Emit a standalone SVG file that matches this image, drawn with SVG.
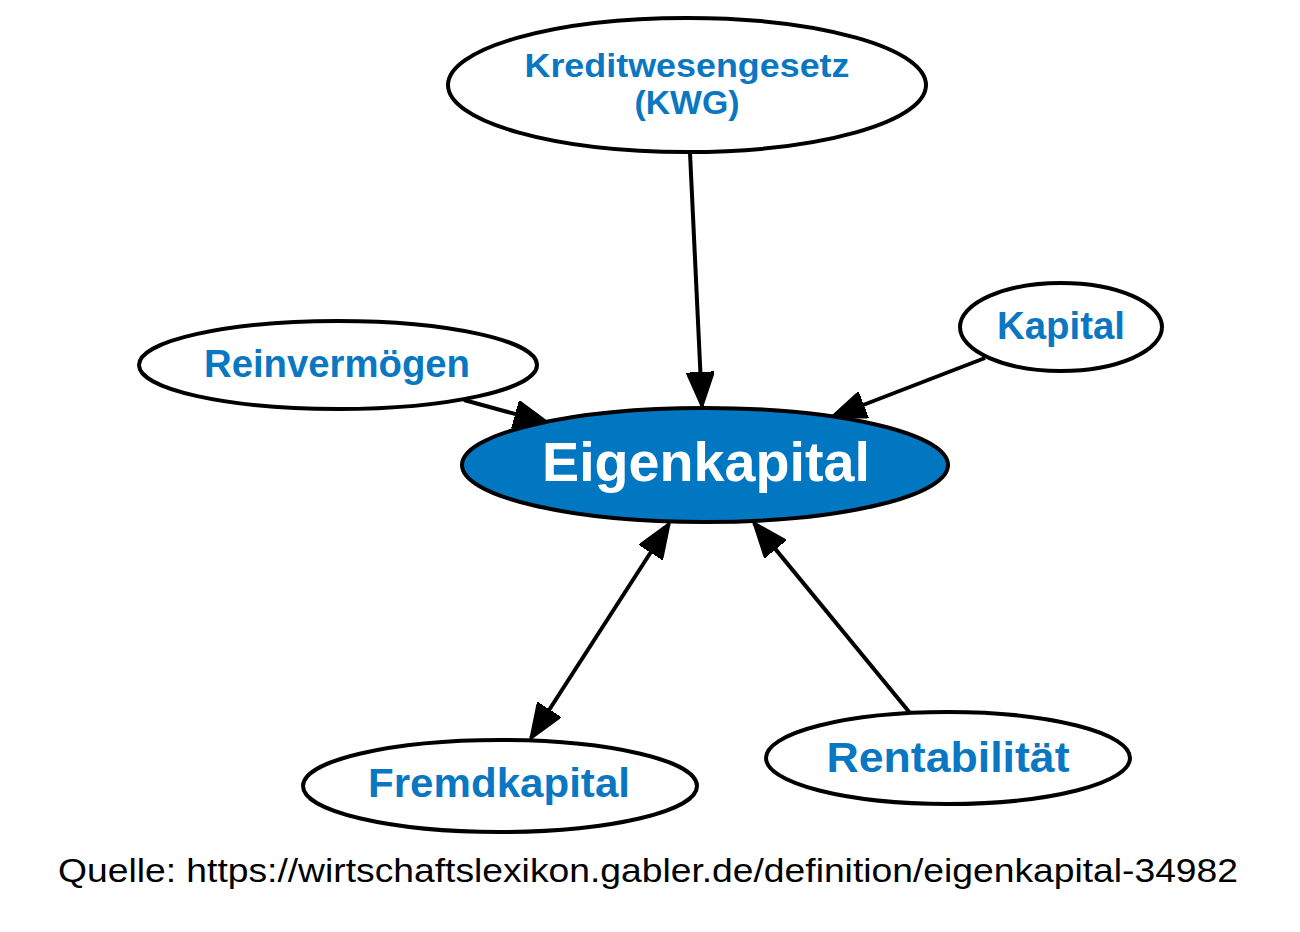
<svg xmlns="http://www.w3.org/2000/svg" width="1300" height="932" viewBox="0 0 1300 932">
<style>
.node ellipse{fill:#fff;stroke:#000;stroke-width:4}
.node text{font-family:"Liberation Sans",Arial,sans-serif;font-weight:bold;fill:#0a77c2;text-anchor:middle}
#n-eigen ellipse{fill:#0077c0}
#n-eigen text{fill:#fff}
.edge{stroke:#000;stroke-width:4;fill:none}
.src{font-family:"Liberation Sans",Arial,sans-serif;fill:#000}
</style>
<defs>
<marker id="arr" viewBox="0 0 36 28" markerWidth="36" markerHeight="28" refX="34" refY="14" orient="auto-start-reverse" markerUnits="userSpaceOnUse">
<path d="M0,0 L36,14 L0,28 Z" fill="#000" stroke="#000" stroke-width="1.5" stroke-linejoin="miter"/>
</marker>
</defs>
<rect width="1300" height="932" fill="#fff"/>
<g id="connectors">
<line class="edge" x1="690" y1="153" x2="702" y2="406" marker-end="url(#arr)"/>
<line class="edge" x1="985" y1="358" x2="832" y2="417" marker-end="url(#arr)"/>
<line class="edge" x1="464" y1="400" x2="548" y2="423" marker-end="url(#arr)"/>
<line class="edge" x1="531" y1="738" x2="669" y2="524" marker-start="url(#arr)" marker-end="url(#arr)"/>
<line class="edge" x1="910" y1="713" x2="754" y2="523" marker-end="url(#arr)"/>
</g>
<g id="n-kwg" class="node">
<ellipse cx="687" cy="85" rx="239" ry="67"/>
<text x="687" y="77" font-size="33" textLength="325" lengthAdjust="spacingAndGlyphs">Kreditwesengesetz</text>
<text x="687" y="114" font-size="33" textLength="105" lengthAdjust="spacingAndGlyphs">(KWG)</text>
</g>
<g id="n-kapital" class="node">
<ellipse cx="1061" cy="327" rx="101" ry="44"/>
<text x="1061" y="339" font-size="38" textLength="128" lengthAdjust="spacingAndGlyphs">Kapital</text>
</g>
<g id="n-rein" class="node">
<ellipse cx="338" cy="365" rx="199" ry="44"/>
<text x="337" y="377" font-size="38" textLength="266" lengthAdjust="spacingAndGlyphs">Reinvermögen</text>
</g>
<g id="n-eigen" class="node">
<ellipse cx="705" cy="465" rx="243" ry="57"/>
<text x="706" y="481" font-size="55" textLength="328" lengthAdjust="spacingAndGlyphs">Eigenkapital</text>
</g>
<g id="n-fremd" class="node">
<ellipse cx="500" cy="786" rx="197" ry="46"/>
<text x="499" y="797" font-size="41" textLength="262" lengthAdjust="spacingAndGlyphs">Fremdkapital</text>
</g>
<g id="n-rent" class="node">
<ellipse cx="948" cy="758" rx="182" ry="46"/>
<text x="948" y="772" font-size="43" textLength="243" lengthAdjust="spacingAndGlyphs">Rentabilität</text>
</g>
<text class="src" x="58" y="882" font-size="34" textLength="1180" lengthAdjust="spacingAndGlyphs">Quelle: https://wirtschaftslexikon.gabler.de/definition/eigenkapital-34982</text>
</svg>
